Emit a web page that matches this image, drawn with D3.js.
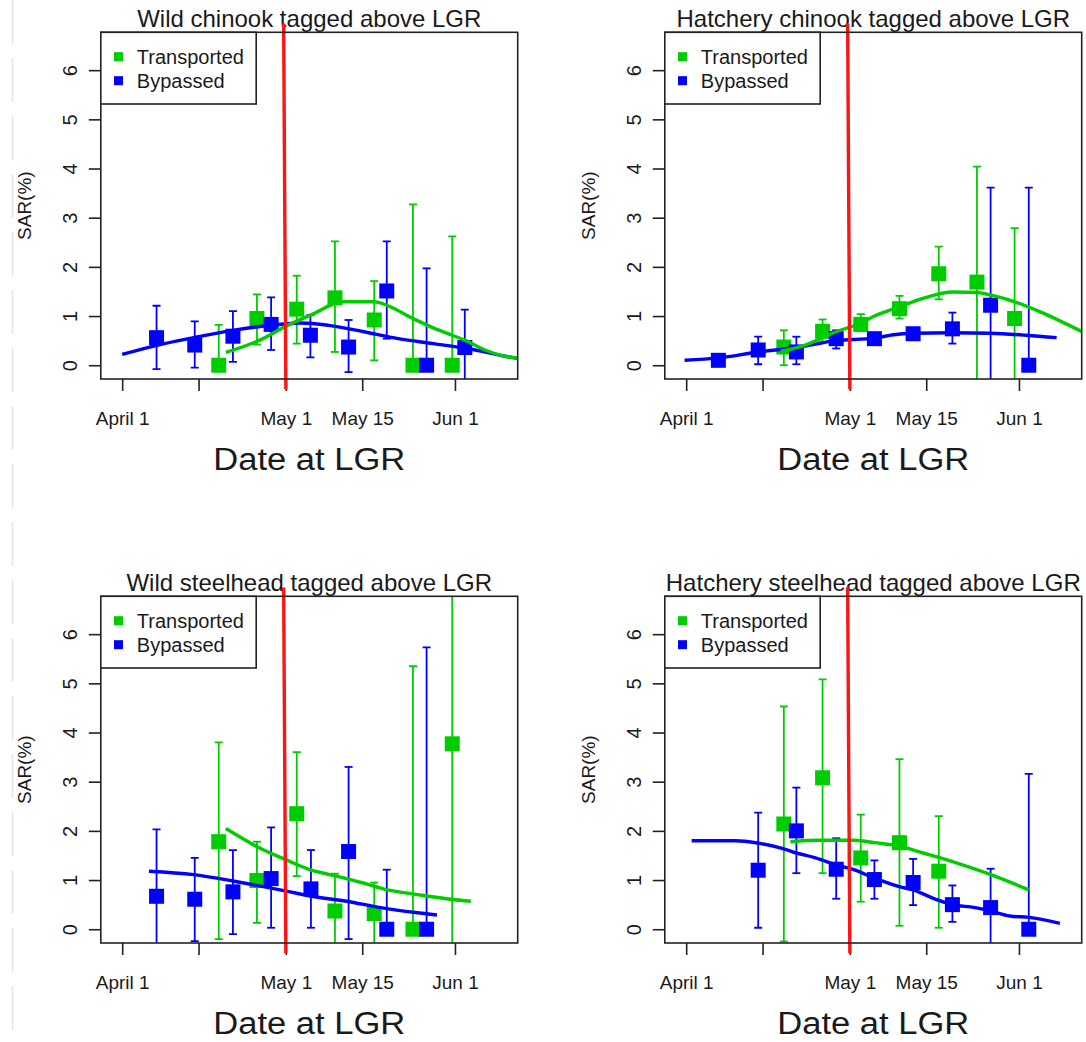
<!DOCTYPE html>
<html>
<head>
<meta charset="utf-8">
<script src="https://cdn.jsdelivr.net/npm/d3@7"></script>
<style>
  body { margin: 0; background: #fff; }
  text { font-family: "Liberation Sans", Arial, sans-serif; fill: #1a1a1a; }
</style>
</head>
<body>
<svg id="chart" width="1086" height="1042"></svg>
<script>
// days counted from April 1
const tickDays = [0, 14, 30, 44, 61];
const tickLabels = ["April 1", "", "May 1", "May 15", "Jun 1"];
const sarTicks = [0, 1, 2, 3, 4, 5, 6];
const cutoffDay = 30; // May 1
const seriesNames = ["Transported", "Bypassed"];

const panelTitles = [
    "Wild chinook tagged above LGR",
    "Hatchery chinook tagged above LGR",
    "Wild steelhead tagged above LGR",
    "Hatchery steelhead tagged above LGR"
];

// wild chinook
const wcTransported = [
    {day: 17.7, sar: 0, lo: 0, hi: 0.82},
    {day: 24.7, sar: 0.95, lo: 0.42, hi: 1.44},
    {day: 32.0, sar: 1.14, lo: 0.44, hi: 1.82},
    {day: 39.0, sar: 1.37, lo: 0.27, hi: 2.52},
    {day: 46.2, sar: 0.92, lo: 0.10, hi: 1.71},
    {day: 53.3, sar: 0, lo: 0, hi: 3.27},
    {day: 60.5, sar: 0, lo: 0, hi: 2.62}
];
const wcBypassed = [
    {day: 6.3, sar: 0.56, lo: -0.08, hi: 1.21},
    {day: 13.3, sar: 0.41, lo: -0.05, hi: 0.89},
    {day: 20.3, sar: 0.59, lo: 0.07, hi: 1.10},
    {day: 27.3, sar: 0.83, lo: 0.31, hi: 1.38},
    {day: 34.5, sar: 0.61, lo: 0.16, hi: 1.02},
    {day: 41.5, sar: 0.37, lo: -0.14, hi: 0.92},
    {day: 48.5, sar: 1.51, lo: 0.54, hi: 2.52},
    {day: 55.8, sar: 0, lo: 0, hi: 1.97},
    {day: 62.8, sar: 0.36, lo: -0.4, hi: 1.13}
];
const wcTransportedFit = [[19, 0.26], [25.2, 0.51], [30.3, 0.81], [34.7, 1.03], [40.5, 1.29], [46.2, 1.29],
    [48.5, 1.22], [53.3, 0.95], [57, 0.76], [60.5, 0.61], [62.8, 0.51], [66.5, 0.31], [69.5, 0.2], [72.5, 0.14]];
const wcBypassedFit = [[0, 0.22], [6.2, 0.40], [13.1, 0.56], [20.3, 0.71], [27.1, 0.81], [32.8, 0.86], [37.9, 0.81],
    [44.3, 0.68], [50.6, 0.54], [57, 0.44], [63.3, 0.34], [70.9, 0.17], [72.5, 0.14]];

// hatchery chinook
const hcTransported = [
    {day: 17.9, sar: 0.37, lo: 0, hi: 0.71},
    {day: 25.0, sar: 0.69, lo: 0.47, hi: 0.93},
    {day: 32.0, sar: 0.83, lo: 0.70, hi: 1.04},
    {day: 39.1, sar: 1.15, lo: 0.95, hi: 1.41},
    {day: 46.3, sar: 1.86, lo: 1.34, hi: 2.41},
    {day: 53.3, sar: 1.69, lo: -0.4, hi: 4.04},
    {day: 60.2, sar: 0.95, lo: -0.4, hi: 2.79}
];
const hcBypassed = [
    {day: 5.9, sar: 0.10, lo: 0, hi: 0.22},
    {day: 13.2, sar: 0.31, lo: 0.02, hi: 0.58},
    {day: 20.2, sar: 0.27, lo: 0.02, hi: 0.58},
    {day: 27.5, sar: 0.54, lo: 0.34, hi: 0.71},
    {day: 34.5, sar: 0.54, lo: 0.45, hi: 0.64},
    {day: 41.6, sar: 0.64, lo: 0.55, hi: 0.75},
    {day: 48.8, sar: 0.74, lo: 0.44, hi: 1.07},
    {day: 55.8, sar: 1.22, lo: -0.4, hi: 3.61},
    {day: 62.8, sar: 0, lo: 0, hi: 3.61}
];
const hcTransportedFit = [[17.3, 0.28], [21.8, 0.41], [27.5, 0.68], [32, 0.86], [34.5, 1.0], [39.1, 1.19], [43.4, 1.36],
    [48.8, 1.49], [53.3, 1.48], [56.1, 1.42], [60.2, 1.29], [65, 1.08], [72.6, 0.68]];
const hcBypassedFit = [[-0.3, 0.10], [6, 0.15], [13.2, 0.27], [20.2, 0.36], [27.5, 0.50], [34.5, 0.55], [38, 0.62],
    [41.6, 0.65], [48.8, 0.66], [55.8, 0.65], [62.3, 0.61], [67.9, 0.56]];

// wild steelhead
const wsTransported = [
    {day: 17.7, sar: 1.78, lo: -0.20, hi: 3.80},
    {day: 24.7, sar: 0.99, lo: 0.13, hi: 1.78},
    {day: 32.0, sar: 2.35, lo: 1.08, hi: 3.60},
    {day: 39.0, sar: 0.37, lo: -0.4, hi: 1.13},
    {day: 46.2, sar: 0.32, lo: -0.4, hi: 0.95},
    {day: 53.3, sar: 0, lo: 0, hi: 5.35},
    {day: 60.5, sar: 3.77, lo: -0.4, hi: 7.2}
];
const wsBypassed = [
    {day: 6.3, sar: 0.67, lo: -0.4, hi: 2.03},
    {day: 13.3, sar: 0.61, lo: -0.24, hi: 1.45},
    {day: 20.3, sar: 0.76, lo: -0.10, hi: 1.61},
    {day: 27.3, sar: 1.03, lo: 0.03, hi: 2.07},
    {day: 34.6, sar: 0.82, lo: 0.03, hi: 1.61},
    {day: 41.5, sar: 1.58, lo: -0.20, hi: 3.30},
    {day: 48.5, sar: 0, lo: 0, hi: 1.21},
    {day: 55.8, sar: 0, lo: 0, hi: 5.73}
];
const wsTransportedFit = [[19, 2.05], [22, 1.85], [25.2, 1.65], [30.3, 1.40], [34.7, 1.20], [38.5, 1.10], [44.2, 0.94],
    [48.7, 0.80], [53.8, 0.71], [60.2, 0.61], [63.9, 0.57]];
const wsBypassedFit = [[4.9, 1.18], [13.1, 1.11], [20.3, 0.98], [27.1, 0.84], [30.3, 0.77], [34.7, 0.67], [41.1, 0.57],
    [47.4, 0.44], [53.8, 0.34], [57.7, 0.29]];

// hatchery steelhead
const hsTransported = [
    {day: 17.9, sar: 2.14, lo: -0.25, hi: 4.53},
    {day: 25.0, sar: 3.08, lo: 1.14, hi: 5.08},
    {day: 32.0, sar: 1.45, lo: 0.56, hi: 2.33},
    {day: 39.1, sar: 1.76, lo: 0.07, hi: 3.46},
    {day: 46.3, sar: 1.18, lo: 0.03, hi: 2.30}
];
const hsBypassed = [
    {day: 13.2, sar: 1.20, lo: 0.03, hi: 2.37},
    {day: 20.2, sar: 2.00, lo: 1.14, hi: 2.88},
    {day: 27.5, sar: 1.22, lo: 0.62, hi: 1.85},
    {day: 34.5, sar: 1.01, lo: 0.62, hi: 1.40},
    {day: 41.6, sar: 0.95, lo: 0.49, hi: 1.43},
    {day: 48.8, sar: 0.50, lo: 0.15, hi: 0.89},
    {day: 55.8, sar: 0.44, lo: -0.4, hi: 1.23},
    {day: 62.8, sar: 0, lo: 0, hi: 3.16}
];
const hsTransportedFit = [[19.1, 1.78], [24.3, 1.81], [30.7, 1.81], [34.5, 1.76], [39.1, 1.69], [43.4, 1.55],
    [46.3, 1.46], [49.8, 1.34], [56.1, 1.10], [62.8, 0.80]];
const hsBypassedFit = [[1, 1.80], [9.1, 1.80], [13.2, 1.75], [17.4, 1.65], [20.2, 1.55], [23.7, 1.45], [27.5, 1.31],
    [30.7, 1.21], [34.5, 1.04], [38.9, 0.87], [41.6, 0.80], [45.9, 0.60], [48.8, 0.50], [52.9, 0.44], [55.8, 0.37],
    [59.3, 0.27], [62.8, 0.24], [68.5, 0.12]];

const colors = {transported: "#00cd00", bypassed: "#0000ff", cutoff: "#ff1414", ink: "#222"};

const panels = [
    {title: panelTitles[0], ox: 0, oy: 0, trans: wcTransported, byp: wcBypassed, transFit: wcTransportedFit, bypFit: wcBypassedFit},
    {title: panelTitles[1], ox: 564, oy: 0, trans: hcTransported, byp: hcBypassed, transFit: hcTransportedFit, bypFit: hcBypassedFit},
    {title: panelTitles[2], ox: 0, oy: 564, trans: wsTransported, byp: wsBypassed, transFit: wsTransportedFit, bypFit: wsBypassedFit},
    {title: panelTitles[3], ox: 564, oy: 564, trans: hsTransported, byp: hsBypassed, transFit: hsTransportedFit, bypFit: hsBypassedFit}
];

const box = {left: 100.8, top: 32.3, right: 517.7, bottom: 379};
const svg = d3.select("#chart");

svg.append("rect").attr("width", 1086).attr("height", 1042).attr("fill", "#fff");
// faint scan edge on the left
svg.append("line")
    .attr("x1", 12.5).attr("x2", 12.5).attr("y1", 0).attr("y2", 1042)
    .attr("stroke", "#e4e4e4").attr("stroke-width", 1.5).attr("stroke-dasharray", "44,14");

function drawPanel(p, i) {
    const g = svg.append("g").attr("transform", `translate(${p.ox},${p.oy})`);

    const x = d3.scaleLinear().domain([-3.92, 72.5]).range([box.left, box.right]);
    const y = d3.scaleLinear().domain([-0.28, 6.77]).range([box.bottom, box.top]);

    const clipId = "clip" + i;
    g.append("clipPath").attr("id", clipId)
        .append("rect")
        .attr("x", box.left).attr("y", box.top)
        .attr("width", box.right - box.left).attr("height", box.bottom - box.top);

    // title
    g.append("text")
        .attr("x", (box.left + box.right) / 2).attr("y", 27)
        .attr("text-anchor", "middle")
        .style("font-size", "24px")
        .text(p.title);

    // y axis
    const yAxis = g.append("g")
        .attr("transform", `translate(${box.left},0)`)
        .call(d3.axisLeft(y).tickValues(sarTicks).tickSize(12).tickFormat(d3.format("d")));
    yAxis.select(".domain").remove();
    yAxis.selectAll(".tick line").attr("stroke", colors.ink).attr("stroke-width", 1.6);
    yAxis.selectAll(".tick text")
        .attr("x", null).attr("dy", null)
        .attr("transform", "translate(-24,0) rotate(-90)")
        .attr("text-anchor", "middle")
        .attr("fill", colors.ink)
        .style("font-size", "20px")
        .style("font-family", "Liberation Sans, Arial, sans-serif");

    g.append("text")
        .attr("transform", `translate(31,${(box.top + box.bottom) / 2}) rotate(-90)`)
        .attr("text-anchor", "middle")
        .style("font-size", "19px")
        .text("SAR(%)");

    // x axis
    const xAxis = g.append("g")
        .attr("transform", `translate(0,${box.bottom})`)
        .call(d3.axisBottom(x).tickValues(tickDays).tickSize(12).tickFormat((d, k) => tickLabels[k]));
    xAxis.select(".domain").remove();
    xAxis.selectAll(".tick line").attr("stroke", colors.ink).attr("stroke-width", 1.6);
    xAxis.selectAll(".tick text")
        .attr("y", 46).attr("dy", null)
        .attr("fill", colors.ink)
        .style("font-size", "19px")
        .style("font-family", "Liberation Sans, Arial, sans-serif");

    g.append("text")
        .attr("x", (box.left + box.right) / 2).attr("y", 470)
        .attr("text-anchor", "middle")
        .attr("textLength", 192).attr("lengthAdjust", "spacingAndGlyphs")
        .style("font-size", "31px")
        .text("Date at LGR");

    // data area
    const area = g.append("g").attr("clip-path", `url(#${clipId})`);

    const line = d3.line()
        .x(d => x(d[0]))
        .y(d => y(d[1]))
        .curve(d3.curveMonotoneX);

    const series = [
        {pts: p.trans, fit: p.transFit, color: colors.transported},
        {pts: p.byp, fit: p.bypFit, color: colors.bypassed}
    ];

    series.forEach(s => {
        const bars = area.append("g").attr("stroke", s.color).attr("stroke-width", 1.8);
        bars.selectAll(".stem").data(s.pts).enter().append("line")
            .attr("x1", d => x(d.day)).attr("x2", d => x(d.day))
            .attr("y1", d => y(d.lo)).attr("y2", d => y(d.hi));
        bars.selectAll(".capHi").data(s.pts).enter().append("line")
            .attr("x1", d => x(d.day) - 4).attr("x2", d => x(d.day) + 4)
            .attr("y1", d => y(d.hi)).attr("y2", d => y(d.hi));
        bars.selectAll(".capLo").data(s.pts.filter(d => d.lo !== d.sar)).enter().append("line")
            .attr("x1", d => x(d.day) - 4).attr("x2", d => x(d.day) + 4)
            .attr("y1", d => y(d.lo)).attr("y2", d => y(d.lo));
    });

    series.forEach(s => {
        area.selectAll(null).data(s.pts).enter().append("rect")
            .attr("x", d => x(d.day) - 7.5).attr("y", d => y(d.sar) - 7.5)
            .attr("width", 15).attr("height", 15)
            .attr("fill", s.color);
    });

    series.slice().reverse().forEach(s => {
        area.append("path")
            .datum(s.fit)
            .attr("fill", "none")
            .attr("stroke", s.color)
            .attr("stroke-width", 3.4)
            .attr("d", line);
    });

    // cutoff line at May 1 (drawn past the box, slightly tilted as in the scan)
    g.append("line")
        .attr("x1", x(cutoffDay) - 2.2).attr("y1", y(6.95))
        .attr("x2", x(cutoffDay)).attr("y2", y(-0.49))
        .attr("stroke", colors.cutoff).attr("stroke-width", 3.4);

    // frame
    g.append("rect")
        .attr("x", box.left).attr("y", box.top)
        .attr("width", box.right - box.left).attr("height", box.bottom - box.top)
        .attr("fill", "none").attr("stroke", colors.ink).attr("stroke-width", 1.6);

    // legend
    const lg = g.append("g");
    lg.append("rect")
        .attr("x", box.left).attr("y", box.top)
        .attr("width", 155.4).attr("height", 71.7)
        .attr("fill", "#fff").attr("stroke", colors.ink).attr("stroke-width", 1.6);
    [colors.transported, colors.bypassed].forEach((c, k) => {
        lg.append("rect")
            .attr("x", 114).attr("y", 52.2 + k * 24)
            .attr("width", 9).attr("height", 9)
            .attr("fill", c);
        lg.append("text")
            .attr("x", 136.8).attr("y", 64 + k * 24)
            .style("font-size", "20px")
            .text(seriesNames[k]);
    });
}

panels.forEach(drawPanel);
</script>
</body>
</html>
